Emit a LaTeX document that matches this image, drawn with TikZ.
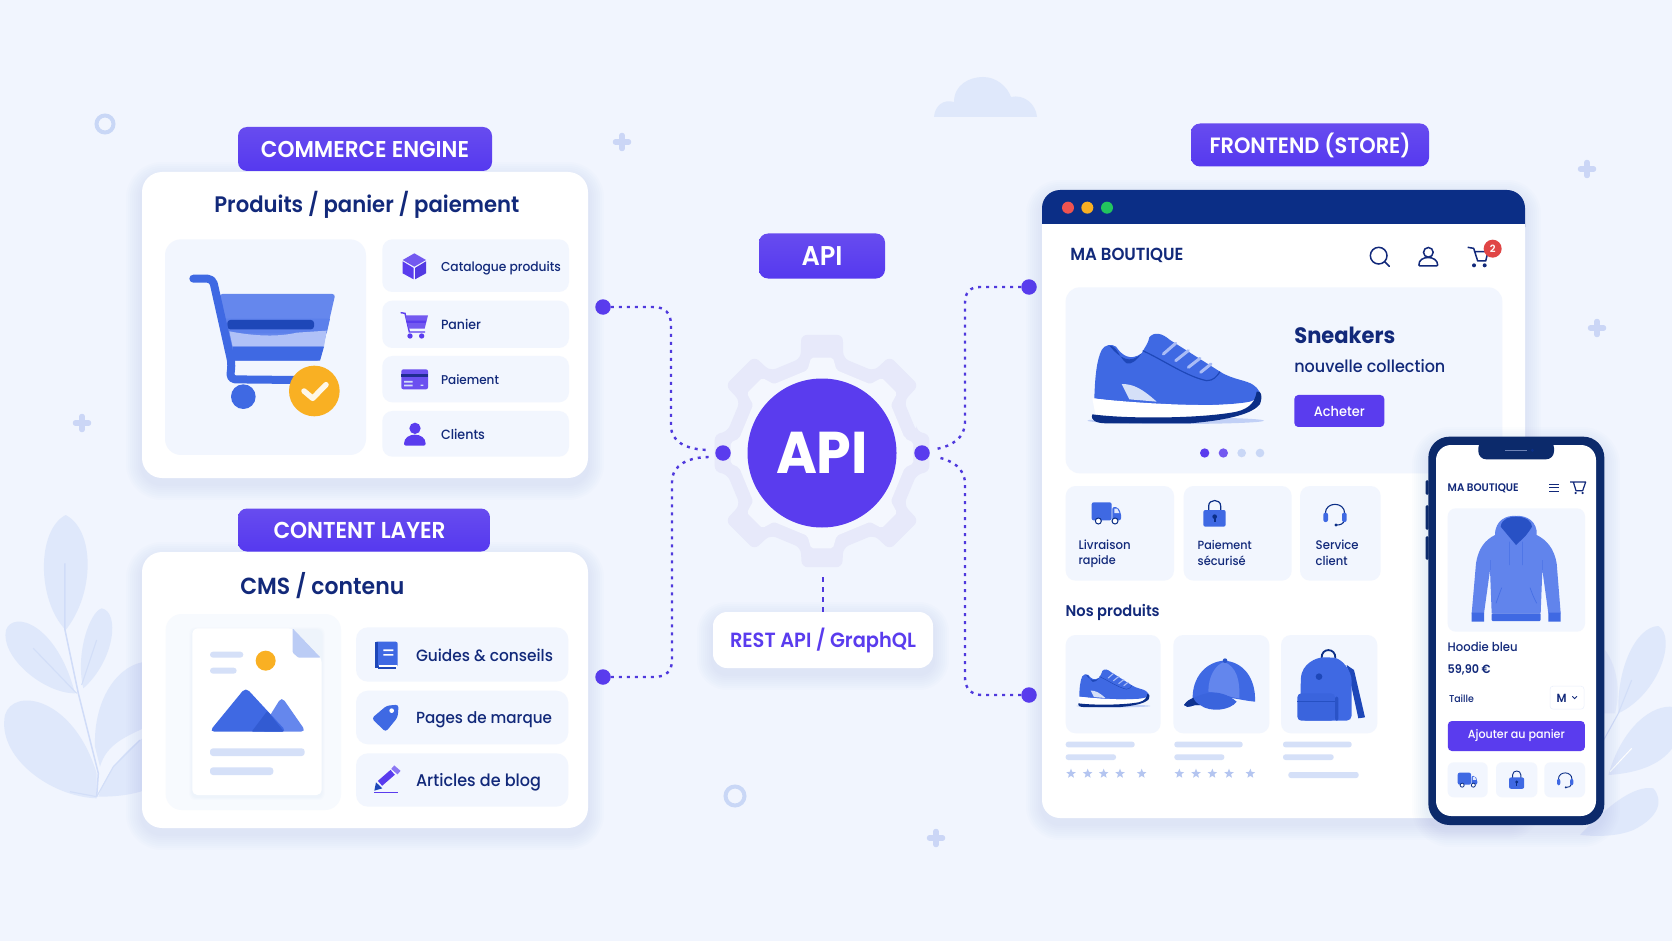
\documentclass[tikz,border=0pt]{standalone}
\usepackage{fontspec}
\usepackage{graphicx}
\setmainfont{Poppins}
\newfontfamily\popr{Poppins}
\newfontfamily\popm{Poppins Medium}
\newfontfamily\pops{Poppins SemiBold}
\newfontfamily\popb{Poppins Bold}
\definecolor{pageBg}{HTML}{F1F5FE}
\definecolor{navy}{HTML}{12297A}
\definecolor{deep}{HTML}{0B2E86}
\definecolor{phoneRim}{HTML}{0C2A6B}
\definecolor{blueA}{HTML}{3F69E3}
\definecolor{blueL}{HTML}{6F8FF0}
\definecolor{blueD}{HTML}{1E47B8}
\definecolor{purple}{HTML}{5A3CEE}
\definecolor{tile}{HTML}{F2F6FE}
\definecolor{lineC}{HTML}{D5E0F8}
\definecolor{starC}{HTML}{B4C5F0}
\definecolor{leaf}{HTML}{DFE8FB}
\definecolor{leafV}{HTML}{C9D7F6}
\definecolor{amber}{HTML}{F9B023}
\definecolor{gearOut}{HTML}{E7E9FA}
\definecolor{gearIn}{HTML}{F4F7FE}
\definecolor{winRed}{HTML}{EF5350}
\definecolor{winGreen}{HTML}{22C55E}
\definecolor{badgeRed}{HTML}{E04545}
\definecolor{plusC}{HTML}{CBD6F6}
\newcommand\fw[2]{\resizebox{#1pt}{!}{\scalebox{1}[1.06]{#2}}}
% soft layered shadow under a rounded box, page coordinates
\newcommand\softshadow[5]{%
  \foreach \s in {2,4,...,16}{%
    \fill[blueA,opacity=.012,rounded corners={(#5+\s)*1pt}]
      ({#1-\s},{#2-\s+6}) rectangle ({#3+\s},{#4+\s+6});}}
% white card: name, x0, y0, x1, y1, radius
\newcommand\card[6]{%
  \softshadow{#2}{#3}{#4}{#5}{#6}
  \node[draw=none,fill=white,inner sep=0,rounded corners=#6pt,
        minimum width={(#4-#2)*1pt},minimum height={(#5-#3)*1pt}]
     (#1) at ({(#2+#4)/2},{(#3+#5)/2}) {};}
% rounded bar or tile in the current scope
\newcommand\rbar[6]{\fill[#6,rounded corners=#5pt] (#1,#2) rectangle (#3,#4);}
\newcommand\shoeicon[2]{%
  \begin{scope}[#1]
    \fill[lineC!80!blueL] (437,722) ellipse (265 and 10);
    \fill[blueA] (193,655) .. controls (195,590) and (200,540) .. (215,510)
      .. controls (222,495) and (245,490) .. (258,500)
      .. controls (275,525) and (300,545) .. (335,520)
      .. controls (345,500) and (355,490) .. (358,472)
      .. controls (372,455) and (395,458) .. (420,480)
      -- (570,575) .. controls (610,600) and (650,600) .. (670,615)
      .. controls (685,625) and (695,640) .. (690,660)
      .. controls (600,680) and (400,685) .. (193,655) -- cycle;
    \fill[blueD] (238,497) .. controls (262,497) and (268,535) .. (290,550)
      .. controls (305,555) and (320,540) .. (335,520)
      .. controls (300,555) and (270,535) .. cycle;
    \draw[blueD,line width=#2*.4pt] (338,512) .. controls (400,540) and (470,590) .. (530,602)
      .. controls (550,602) and (560,590) .. (570,575);
    \fill[lineC] (275,612) .. controls (310,612) and (335,625) .. (380,665)
      -- (298,658) -- cycle;
    \fill[white] (187,655) .. controls (300,668) and (550,685) .. (650,668)
      .. controls (670,665) and (690,650) .. (695,640)
      -- (680,690) -- (520,725) -- (200,725) -- cycle;
    \fill[deep] (187,703) .. controls (300,718) and (520,715) .. (620,695)
      .. controls (660,685) and (675,665) .. (680,635)
      .. controls (695,630) and (698,650) .. (690,672)
      .. controls (670,700) and (600,720) .. (480,730)
      -- (230,730) .. controls (200,730) and (180,722) .. cycle;
    \foreach \ax/\ay/\bx/\by in {400/522/437/490,437/542/475/512,475/562/510/535,512/577/543/552}
      \draw[blueL!60!white,line width=#2pt,line cap=round] (\ax,\ay) -- (\bx,\by);
  \end{scope}}
\newcommand\truckicon[2]{%
  \begin{scope}[#1]
    \fill[blueA,rounded corners=2pt] (0,0) rectangle (60,54);
    \fill[blueA,rounded corners=2pt] (62,14) -- (78,14) -- (88,32) -- (88,54) -- (62,54) -- cycle;
    \fill[white!80!blueL] (68,19) -- (77,19) -- (83,32) -- (68,32) -- cycle;
    \foreach \w in {20,70}
      \filldraw[fill=white,draw=deep,line width=#2pt] (\w,56) circle (9);
  \end{scope}}
\newcommand\lockicon[2]{%
  \begin{scope}[#1]
    \draw[deep,line width=#2pt] (16,34) -- (16,18) .. controls (16,-4) and (52,-4) .. (52,18) -- (52,34);
    \fill[blueA,rounded corners=2pt] (0,30) rectangle (67,80);
    \fill[deep] (34,50) circle (7);
    \fill[deep] (31,50) rectangle (37,66);
  \end{scope}}
\newcommand\headseticon[2]{%
  \begin{scope}[#1]
    \draw[deep,line width=#2pt] (6,28) .. controls (6,-8) and (64,-8) .. (64,28);
    \draw[deep,line width=#2pt] (62,48) .. controls (62,60) and (50,63) .. (40,63);
    \fill[blueA,rounded corners=2pt] (0,26) rectangle (14,54);
    \fill[blueA,rounded corners=2pt] (56,26) rectangle (70,54);
    \fill[deep] (38,63) circle (5);
  \end{scope}}
\newcommand\staricon[2]{%
  \fill[starC,shift={(#1,#2)}] (-90:15)
    foreach \k in {0,...,4}{ -- ({-90+72*\k}:15) -- ({-54+72*\k}:6.5)} -- cycle;}
\tikzset{
  zCom/.style={shift={(130,120)},scale=1/3},
  zCms/.style={shift={(130,500)},scale=1/3},
  zHub/.style={shift={(590,220)},scale=1/3},
  zTop/.style={shift={(1030,180)},scale=1/3},
  zLow/.style={shift={(1040,470)},scale=1/3},
  zPhone/.style={shift={(1410,420)},scale=1/3},
  zLeafL/.style={shift={(0,480)},scale=1/3},
  zLeafR/.style={shift={(1560,600)},scale=1/3},
  pill/.style={top color=purple!92!white,bottom color=purple!95!blue,rounded corners=9pt,inner sep=0,text=white,font=\pops\fontsize{20}{24}\selectfont},
  lab/.style={inner sep=0,outer sep=0,text=navy,anchor=base west,font=\popm\fontsize{20}{24}\selectfont},
  labr/.style={lab,font=\popr\fontsize{20}{24}\selectfont},
  labb/.style={lab,font=\pops\fontsize{20}{24}\selectfont},
  labt/.style={lab,font=\popb\fontsize{20}{24}\selectfont},
  portdot/.style={circle,fill=purple,inner sep=0,minimum size=15.5pt},
  link/.style={draw=purple!85!navy,line width=2.4pt,dash pattern=on 3pt off 5pt},
  plusmark/.style={draw=plusC,line width=5.5pt,line cap=round},
  ringmark/.style={draw=leafV,line width=4pt},
}
\begin{document}
\begin{tikzpicture}[x=1pt,y=-1pt]
\useasboundingbox (0,0) rectangle (1672,941);
\fill[pageBg] (0,0) rectangle (1672,941);

% ---- background decoration ----
\foreach \cx/\cy in {622/142,82/423,1587/169,1597/328,936/838}{
  \draw[plusmark] (\cx-6.5,\cy) -- (\cx+6.5,\cy) (\cx,\cy-6.5) -- (\cx,\cy+6.5);}
\draw[ringmark] (105,124) circle (8.5);
\draw[ringmark] (735,796) circle (9.5);
\begin{scope}[shift={(934,77)},scale=1]
  \fill[leaf] (0,40) .. controls (1,28) and (10,22) .. (20,25)
     .. controls (20,8) and (35,0) .. (49,0)
     .. controls (62,0) and (73,9) .. (77,20)
     .. controls (90,17) and (102,27) .. (103,40) -- cycle;
\end{scope}
\begin{scope}[zLeafL]
  \fill[leaf] (197,450) .. controls (110,360) and (110,150) .. (197,105)
    .. controls (285,150) and (285,340) .. (197,450);
  \fill[leaf] (225,640) .. controls (130,640) and (0,530) .. (18,450)
    .. controls (40,390) and (170,430) .. (225,640);
  \fill[leaf] (250,625) .. controls (225,520) and (270,395) .. (305,385)
    .. controls (360,395) and (345,540) .. (250,625);
  \fill[leaf] (290,955) .. controls (150,950) and (-10,830) .. (15,705)
    .. controls (40,620) and (220,650) .. (290,880) -- cycle;
  \fill[leaf] (285,800) .. controls (280,650) and (360,550) .. (440,545)
    -- (440,740) .. controls (380,770) and (320,790) .. (300,860) -- cycle;
  \fill[leaf] (295,950) .. controls (330,850) and (400,790) .. (450,760)
    -- (450,925) .. controls (400,945) and (350,950) .. (295,950);
  \draw[leafV!70!leaf,line width=1.5pt] (195,250) -- (195,450) -- (235,640) -- (295,880) -- (290,950);
  \draw[leafV!60!leaf,line width=1.1pt] (100,505) -- (230,640) (290,480) -- (245,615);
  \draw[leafV!60!leaf,line width=1.1pt] (210,935) -- (290,950) -- (340,860) -- (420,780);
\end{scope}
\begin{scope}[zLeafR]
  \fill[leaf!70!pageBg] (135,150) .. controls (165,190) and (185,260) .. (165,340) -- (120,340) -- cycle;
  \fill[leaf] (175,340) .. controls (170,200) and (230,80) .. (295,78)
    .. controls (350,110) and (300,280) .. (175,340);
  \fill[leaf] (145,525) .. controls (180,400) and (260,320) .. (330,320)
    -- (340,322) -- (340,440) .. controls (300,500) and (220,520) .. (145,525);
  \fill[leaf] (60,705) .. controls (140,620) and (220,555) .. (280,565)
    .. controls (310,600) and (300,650) .. (220,690) .. controls (170,710) and (110,710) .. (60,705);
  \draw[white,line width=1pt] (150,515) -- (215,445);
  \draw[leafV!60!leaf,line width=1.1pt] (120,440) -- (175,340) -- (215,240);
\end{scope}

% ---- central gear ----
\begin{scope}[shift={(822,453)}]
  \fill[gearOut,rounded corners=6pt] (-12.7:97)
    foreach \a/\r in {0/109,45/118,90/116,135/118,180/109,225/118,270/120,315/118}
      { -- (\a-12.7:97) -- (\a-10:\r) -- (\a+10:\r) -- (\a+12.7:97)} -- cycle;
  \fill[gearIn,rounded corners=2pt] (-10:84)
    foreach \a/\r in {0/92,45/96,90/96,135/96,180/92,225/96,270/96,315/96}
      { -- (\a-10:84) -- (\a-6.5:\r) -- (\a+6.5:\r) -- (\a+10:84)} -- cycle;
\end{scope}

% ---- connectors and their end dots ----
\node[portdot] (dotCom) at (603,307) {};
\node[portdot] (dotCms) at (603,677) {};
\node[portdot] (dotStoreTop) at (1029,287) {};
\node[portdot] (dotStoreLow) at (1029,695) {};
\coordinate (hubInA) at (710,450);
\coordinate (hubInB) at (710,457);
\coordinate (hubOutA) at (936,449);
\coordinate (hubOutB) at (936,457);
\draw[link] (dotCom) -- (653,307) .. controls (665,307) and (671,313) .. (671,325)
   -- (671,426) .. controls (671,441) and (685,450) .. (hubInA);
\draw[link] (dotCms) -- (654,677) .. controls (666,677) and (672,671) .. (672,660)
   -- (672,482) .. controls (672,465) and (688,457) .. (hubInB);
\draw[link] (dotStoreTop) -- (980,287) .. controls (970,287) and (965,292) .. (965,303)
   -- (965,422) .. controls (965,438) and (952,446) .. (hubOutA);
\draw[link] (dotStoreLow) -- (982,695) .. controls (971,695) and (965,688) .. (965,678)
   -- (965,484) .. controls (965,468) and (952,460) .. (hubOutB);

\node[circle,fill=purple,inner sep=0,minimum size=149pt,text=white,font=\popb\fontsize{20}{24}\selectfont]
  (hub) at (822,453) {\fw{92}{API}};
\node[portdot] (portL) at (723,453) {};
\node[portdot] (portR) at (922,453) {};
\node[pill,minimum width=126pt,minimum height=45pt] (pillApi) at (822,256) {\fw{41}{API}};
\softshadow{713}{612}{933}{668}{14}
\node[fill=white,rounded corners=14pt,inner sep=0,minimum width=220pt,minimum height=56pt,
  text=purple,font=\pops\fontsize{20}{24}\selectfont] (restBox) at (823,640) {\fw{186}{REST API / GraphQL}};
\coordinate (gearFoot) at (823,577);
\draw[link,line width=2.6pt,dash pattern=on 5pt off 5pt] (gearFoot) -- (restBox.north);

% ---- commerce engine card ----
\card{cardCom}{142}{172}{588}{478}{20}
\node[pill,minimum width=254pt,minimum height=44pt] (pillCom) at (365,149) {\fw{208}{COMMERCE ENGINE}};
\begin{scope}[zCom]
  \node[labb] (titleCom) at (253,277) {\fw{305}{Produits / panier / paiement}};
  \rbar{105}{358}{708}{1005}{16}{tile}
  \rbar{757}{358}{1317}{516}{10}{tile}
  \rbar{757}{542}{1317}{684}{10}{tile}
  \rbar{757}{708}{1317}{847}{10}{tile}
  \rbar{757}{873}{1317}{1010}{10}{tile}
  % large trolley
  \fill[blueL!80!blueA,rounded corners=3pt] (268,522) -- (616,522) -- (570,722) -- (308,722) -- cycle;
  \fill[blueL!60!blueA] (285,596) -- (600,596) -- (590,640) -- (295,640) -- cycle;
  \fill[blueL!55!white] (298,634) .. controls (380,650) and (450,650) .. (500,638) -- (590,632) -- (582,680) -- (308,680) -- cycle;
  \fill[blueA] (308,680) -- (582,680) -- (570,722) -- (308,722) -- cycle;
  \fill[blueD,rounded corners=3pt] (292,600) rectangle (552,628);
  \draw[blueA,line width=8pt,line cap=round,line join=round,rounded corners=5pt]
     (190,476) -- (248,476) -- (305,730) -- (300,778) -- (500,780);
  \fill[blueA] (340,830) circle (37);
  \fill[amber] (553,813) circle (76);
  \draw[white!90!amber,line width=5.5pt,line join=round,line cap=round] (522,813) -- (548,835) -- (588,794);
  % cube
  \fill[purple!85!white] (853,400) -- (888,420) -- (853,440) -- (818,420) -- cycle;
  \fill[purple] (818,424) -- (851,444) -- (851,478) -- (818,460) -- cycle;
  \fill[purple!90!navy] (888,424) -- (855,444) -- (855,478) -- (888,460) -- cycle;
  % small trolley
  \draw[purple,line width=1.4pt] (812,578) -- (825,580) -- (838,636) -- (885,636);
  \fill[purple!85!white] (826,586) -- (894,586) -- (884,626) -- (836,626) -- cycle;
  \fill[purple] (829,602) -- (889,602) -- (887,609) -- (831,609) -- cycle;
  \fill[purple] (840,648) circle (8) (875,648) circle (8);
  % payment card
  \fill[purple!90!white,rounded corners=2pt] (814,748) rectangle (894,808);
  \fill[navy!80!purple] (814,762) rectangle (894,770);
  \fill[lineC] (822,783) rectangle (848,788) (822,794) rectangle (848,799) (872,794) rectangle (880,798);
  % customer
  \fill[purple] (855,925) circle (17);
  \fill[purple,rounded corners=2pt] (822,977) .. controls (822,935) and (887,935) .. (887,977) -- cycle;
  \node[lab] (tCat) at (933,455) {\fw{120}{Catalogue produits}};
  \node[lab] (tPan) at (933,630) {\fw{40}{Panier}};
  \node[lab] (tPai) at (933,793) {\fw{58}{Paiement}};
  \node[lab] (tCli) at (933,958) {\fw{44}{Clients}};
\end{scope}

% ---- content layer card ----
\card{cardCms}{142}{552}{588}{828}{20}
\node[pill,minimum width=252pt,minimum height=43pt] (pillCms) at (364,530) {\hspace*{-9pt}\fw{172}{CONTENT LAYER}};
\begin{scope}[zCms]
  \node[labb] (titleCms) at (331,284) {\fw{164}{CMS / contenu}};
  \rbar{107}{342}{633}{930}{16}{tile!60!white}
  \rbar{678}{382}{1315}{545}{12}{tile}
  \rbar{678}{572}{1315}{733}{12}{tile}
  \rbar{678}{760}{1315}{920}{12}{tile}
  \foreach \s in {1,2,3}{
    \fill[blueA,opacity=.012,rounded corners=6pt] (187-3*\s,385-3*\s+6) rectangle (575+3*\s,885+3*\s+6);}
  \fill[white,rounded corners=5pt] (187,385) -- (488,385) -- (575,475) -- (575,885) -- (187,885) -- cycle;
  \fill[leafV!85!blueL,rounded corners=1pt] (488,385) -- (572,473) -- (505,473) -- (488,458) -- cycle;
  \rbar{240}{455}{340}{473}{3}{lineC}
  \rbar{240}{503}{320}{521}{3}{lineC}
  \fill[amber] (407,482) circle (30);
  \fill[blueL!80!blueA,rounded corners=5pt] (390,695) -- (455,590) -- (528,695) -- cycle;
  \fill[blueA,rounded corners=5pt] (238,695) -- (347,562) -- (470,695) -- cycle;
  \fill[blueD!40!blueA,rounded corners=1pt] (365,695) -- (412,633) -- (462,695) -- cycle;
  \rbar{240}{745}{524}{768}{3}{lineC}
  \rbar{240}{802}{430}{825}{3}{lineC}
  % book
  \fill[blueA,rounded corners=2pt] (735,425) rectangle (803,500);
  \fill[blueD] (735,427) rectangle (745,505);
  \fill[blueD] (745,498) rectangle (798,507);
  \fill[white] (746,496) rectangle (800,500);
  \fill[white] (760,448) rectangle (790,453) (760,462) rectangle (790,467);
  % tag
  \fill[blueA,rounded corners=3pt] (725,655) -- (770,617) -- (806,614) -- (803,652) -- (767,696) -- cycle;
  \fill[white] (785,632) circle (7);
  % pencil
  \draw[purple,line width=6.5pt] (750,850) -- (788,817);
  \fill[purple!70!white,rotate around={-41:(798,810)}] (785,803) rectangle (810,817);
  \fill[blueD] (733,872) -- (738,847) -- (757,865) -- cycle;
  \draw[purple,line width=1.4pt] (732,878) -- (805,878);
  \node[lab] (tGui) at (858,483) {\fw{137}{Guides \& conseils}};
  \node[lab] (tPag) at (858,671) {\fw{136}{Pages de marque}};
  \node[lab] (tArt) at (858,858) {\fw{125}{Articles de blog}};
\end{scope}

% ---- storefront window ----
\node[pill,minimum width=238pt,minimum height=43pt] (pillStore) at (1310,145) {\fw{201}{FRONTEND (STORE)}};
\card{cardStore}{1042}{190}{1525}{818}{18}
\fill[deep,rounded corners=18pt] (1042,190) rectangle (1525,245);
\fill[white] (1042,224) rectangle (1525,245);
\begin{scope}[zTop]
  \fill[winRed] (114,83) circle (18);
  \fill[amber] (172,83) circle (18);
  \fill[winGreen] (231,83) circle (18);
  \node[labb] (brand) at (121,243) {\fw{113}{MA BOUTIQUE}};
  \draw[navy,line width=1.5pt] (1046,227) circle (25);
  \draw[navy,line width=1.7pt,line cap=round] (1064,245) -- (1078,259);
  \draw[navy,line width=1.5pt] (1195,217) circle (14.5);
  \draw[navy,line width=1.5pt,rounded corners=1pt] (1167,258) .. controls (1165,225) and (1223,225) .. (1223,258) -- cycle;
  \draw[navy,line width=1.5pt,line join=round] (1313,202) -- (1331,205) -- (1343,243) -- (1367,243) -- (1374,215) -- (1335,215);
  \fill[navy] (1332,256) circle (6) (1364,256) circle (6);
  \node[circle,fill=badgeRed,inner sep=0,minimum size=18pt,text=white,font=\pops\fontsize{10}{12}\selectfont]
    (badge) at (1388,206) {2};
  \rbar{107}{322}{1417}{880}{14}{tile}
\end{scope}
\shoeicon{zTop}{3}
\begin{scope}[zTop]
  \node[labt] (tSne) at (793,492) {\fw{101}{Sneakers}};
  \node[lab] (tNou) at (793,578) {\fw{151}{nouvelle collection}};
  \node[fill=purple,rounded corners=4pt,inner sep=0,minimum width=90pt,minimum height=32pt,text=white,
     font=\popm\fontsize{20}{24}\selectfont] (btnBuy) at (928,693) {\fw{51}{Acheter}};
  \fill[purple] (524,819) circle (14);
  \fill[purple!85!white] (580,819) circle (14);
  \fill[leafV] (635,819) circle (13) (690,819) circle (13);
\end{scope}
\begin{scope}[zLow]
  \rbar{77}{48}{402}{332}{10}{tile}
  \rbar{431}{48}{755}{332}{10}{tile}
  \rbar{780}{48}{1022}{332}{10}{tile}
\end{scope}
\truckicon{zLow,shift={(155,97)}}{1}
\lockicon{zLow,shift={(490,90)}}{1.2}
\headseticon{zLow,shift={(850,102)}}{1.1}
\begin{scope}[zLow]
  \node[lab] (tLiv) at (116,238) {\fw{52}{Livraison}};
  \node[lab] (tRap) at (116,283) {\fw{37}{rapide}};
  \node[lab] (tPay) at (473,238) {\fw{54}{Paiement}};
  \node[lab] (tSec) at (473,285) {\fw{48}{sécurisé}};
  \node[lab] (tSer) at (827,238) {\fw{43}{Service}};
  \node[lab] (tCnt) at (827,285) {\fw{32}{client}};
  \node[labb] (tNos) at (77,440) {\fw{94}{Nos produits}};
  \rbar{77}{495}{362}{790}{10}{tile}
  \rbar{400}{495}{688}{790}{10}{tile}
  \rbar{723}{495}{1012}{790}{10}{tile}
\end{scope}
\shoeicon{shift={(1052.2,604.9)},scale=.14}{1.1}
\begin{scope}[zLow]
  % cap
  \fill[blueA] (458,690) .. controls (455,620) and (500,575) .. (552,572)
     .. controls (610,575) and (648,625) .. (645,695)
     .. controls (590,690) and (520,665) .. cycle;
  \fill[blueL!75!blueA] (505,665) .. controls (505,620) and (525,585) .. (552,576)
     .. controls (590,590) and (600,630) .. (598,685) .. controls (570,682) and (535,668) .. cycle;
  \fill[blueA!85!blueD] (432,705) .. controls (445,688) and (490,665) .. (530,668)
     .. controls (560,672) and (578,685) .. (590,695)
     .. controls (570,722) and (510,728) .. (480,705)
     .. controls (460,700) and (445,720) .. cycle;
  \fill[deep!80!blueD] (432,705) .. controls (440,692) and (450,688) .. (460,683)
     .. controls (462,692) and (472,702) .. (480,705)
     .. controls (460,700) and (445,720) .. cycle;
  \fill[blueD!60!blueA] (555,572) circle (7);
  % backpack
  \draw[deep,line width=1.8pt] (845,565) .. controls (842,532) and (888,532) .. (886,565);
  \fill[blueD] (920,585) -- (942,600) -- (975,742) -- (955,745) -- cycle;
  \fill[blueA,rounded corners=5pt] (782,752) -- (782,640) .. controls (785,580) and (830,562) .. (866,562)
     .. controls (905,565) and (935,600) .. (935,650) -- (935,752) -- cycle;
  \fill[blueD] (837,620) circle (10);
  \fill[blueA!85!blueD,rounded corners=4pt] (772,670) rectangle (885,752);
  \fill[blueD!65!blueA,rounded corners=2pt] (885,680) rectangle (895,752);
  \draw[blueD!75!blueA,line width=.6pt] (772,695) -- (885,695);
  \foreach \xa/\xb in {77/284,403/608,729/935}{
    \rbar{\xa}{815}{\xb}{832}{2.5}{lineC}}
  \rbar{77}{853}{228}{870}{2.5}{lineC}
  \rbar{403}{853}{553}{870}{2.5}{lineC}
  \rbar{729}{853}{881}{870}{2.5}{lineC}
  \rbar{745}{906}{956}{924}{2.5}{lineC}
  \foreach \sx in {93,143,191,240,305,418,468,517,567,631}{\staricon{\sx}{911}}
\end{scope}

% ---- phone ----
\softshadow{1428}{437}{1604}{825}{22}
\begin{scope}[zPhone]
  \fill[phoneRim,rounded corners=1.5pt] (47,180) rectangle (56,225) (47,255) rectangle (56,330) (47,348) rectangle (56,420);
  \fill[phoneRim,rounded corners=21pt] (55,50) rectangle (583,1215);
  \fill[white,rounded corners=15pt] (78,75) rectangle (558,1188);
  \fill[phoneRim,rounded corners=8pt] (205,60) rectangle (432,118);
  \draw[deep!60!white,line width=.6pt] (285,91) -- (350,91);
  \fill[deep] (367,91) circle (5);
  \node[labb] (brandP) at (113,214) {\fw{71}{MA BOUTIQUE}};
  \draw[navy,line width=1pt] (418,192) -- (447,192) (418,203) -- (447,203) (418,214) -- (447,214);
  \draw[navy,line width=1.2pt,line join=round] (480,186) -- (490,186) -- (498,212) -- (518,212) -- (527,186) -- (490,186);
  \fill[navy] (497,219) circle (3.6) (518,219) circle (3.6);
  \rbar{113}{265}{525}{635}{8}{tile}
  % hoodie
  \fill[blueL!70!blueA] (255,345) .. controls (225,360) and (205,385) .. (198,430) -- (185,580)
     -- (222,580) -- (240,450) -- (245,580) -- (392,580) -- (397,450) -- (415,580) -- (452,580)
     -- (440,430) .. controls (432,385) and (410,360) .. (380,345) -- cycle;
  \fill[blueL!70!blueA] (255,345) .. controls (255,300) and (290,285) .. (318,288)
     .. controls (350,285) and (383,305) .. (380,345) .. controls (360,375) and (275,375) .. cycle;
  \fill[blueD!70!blueA] (272,320) .. controls (275,295) and (300,290) .. (318,290)
     .. controls (350,290) and (365,305) .. (366,320) .. controls (350,345) .. (318,375)
     .. controls (295,345) .. cycle;
  \fill[blueA] (185,578) rectangle (222,605) (415,578) rectangle (452,605);
  \fill[blueA,rounded corners=1pt] (245,580) rectangle (392,603);
  \draw[blueA!85!blueL,line width=.7pt] (298,365) -- (298,435) (337,365) -- (337,435)
     (258,550) .. controls (265,530) .. (275,503) (360,503) .. controls (370,530) .. (380,550);
  \draw[blueL!40!blueA,line width=.5pt] (240,420) -- (240,450) (397,420) -- (397,450);
  \node[lab] (tHoo) at (113,695) {\fw{70}{Hoodie bleu}};
  \node[labb] (tPri) at (113,760) {\fw{43}{59,90 €}};
  \node[lab] (tTai) at (117,846) {\fw{25}{Taille}};
  \node[draw=tile!70!lineC,line width=.5pt,fill=white,rounded corners=3pt,inner sep=0,minimum width=34pt,minimum height=23pt]
     (sizeBox) at (471,833) {};
  \node[labb] (tM) at (440,846) {\fw{10}{M}};
  \draw[navy,line width=.9pt] (487,829) -- (494,836) -- (501,829);
  \node[fill=purple,rounded corners=4pt,inner sep=0,minimum width=137pt,minimum height=30pt,text=white,
     font=\popm\fontsize{20}{24}\selectfont] (btnAdd) at (319,948) {\fw{97}{Ajouter au panier}};
  \rbar{113}{1027}{233}{1132}{6}{tile}
  \rbar{258}{1027}{382}{1132}{6}{tile}
  \rbar{403}{1027}{525}{1132}{6}{tile}
\end{scope}
\truckicon{zPhone,shift={(143,1058)},scale=.67}{.8}
\lockicon{zPhone,shift={(297,1052)},scale=.68}{.9}
\headseticon{zPhone,shift={(441,1058)},scale=.7}{.9}
\end{tikzpicture}
\end{document}
